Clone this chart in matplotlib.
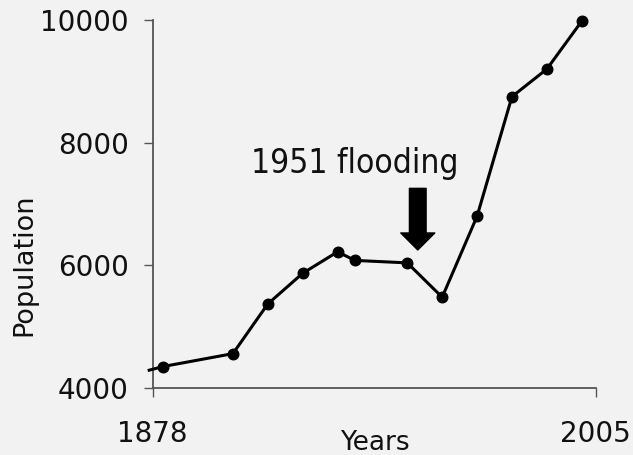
import matplotlib
matplotlib.use("Agg")
import matplotlib.pyplot as plt

plt.rcParams['font.family'] = ['DejaVu Sans']

# Census population by year (first value is the lead-in before the axis start)
years = [1877, 1881, 1901, 1911, 1921, 1931, 1936, 1951, 1961, 1971, 1981, 1991, 2001]
population = [4290, 4350, 4560, 5370, 5870, 6220, 6080, 6040, 5480, 6800, 8750, 9200, 9980]

x_ticks = [1878, 2005]
y_ticks = [4000, 6000, 8000, 10000]

event_label = "1951 flooding"
arrow_x = 1954
arrow_top = 7255
arrow_tip = 6250

BG = "#f2f2f2"
AXIS = "#555555"
INK = "#111111"

fig = plt.figure(figsize=(6.33, 4.55), dpi=100, facecolor=BG)
ax = fig.add_axes([0.2412, 0.1473, 0.6998, 0.8087])
ax.set_facecolor(BG)

ax.plot(years, population, color="black", lw=2.2, marker="o", ms=7.6,
        markevery=list(range(1, len(years))), clip_on=False, zorder=3,
        solid_joinstyle="round")

ax.set_xlim(x_ticks[0], x_ticks[-1])
ax.set_ylim(y_ticks[0], y_ticks[-1])
ax.set_xticks(x_ticks)
ax.set_yticks(y_ticks)

for s in ["top", "right"]:
    ax.spines[s].set_visible(False)
for s in ["left", "bottom"]:
    ax.spines[s].set_color(AXIS)
    ax.spines[s].set_linewidth(1.3)

ax.tick_params(axis="both", direction="out", length=6.3, width=1.0, color=AXIS,
               labelsize=20, labelcolor=INK)
ax.tick_params(axis="x", pad=17)
ax.tick_params(axis="y", pad=11)

fig.text(375 / 633, 1 - 450 / 455, "Years", ha="center", va="baseline",
         fontsize=19, color=INK)
fig.text(24 / 633, 1 - 265 / 455, "Population", ha="center", va="center",
         rotation=90, fontsize=19.5, color=INK)

ax.text(1936, 7510, event_label, ha="center", va="baseline",
        fontsize=24, fontstretch="condensed", color=INK, clip_on=False)

ax.annotate("", xy=(arrow_x, arrow_tip), xytext=(arrow_x, arrow_top),
            arrowprops=dict(arrowstyle="simple,head_length=0.5,head_width=1.0,tail_width=0.49",
                            color="black", mutation_scale=24.5,
                            shrinkA=0, shrinkB=0))

fig.savefig("out.png", dpi=100, facecolor=BG)
